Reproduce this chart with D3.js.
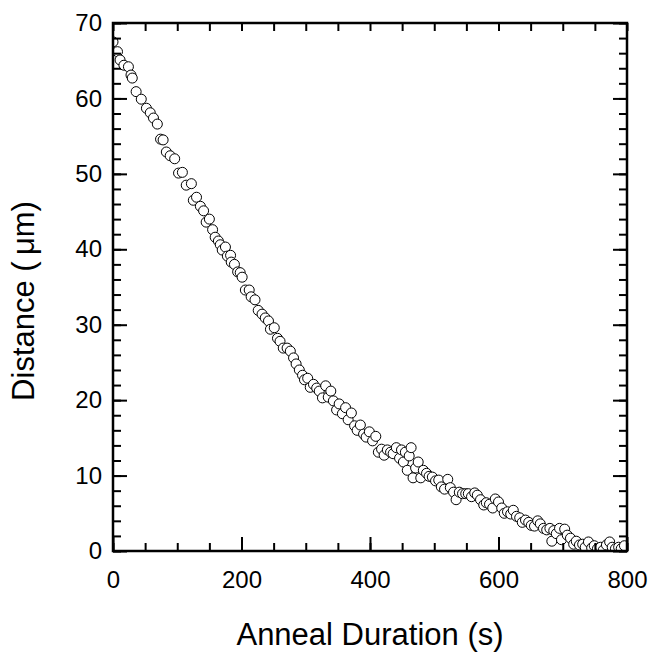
<!DOCTYPE html>
<html>
<head>
<meta charset="utf-8">
<script src="https://cdn.jsdelivr.net/npm/d3@7"></script>
<style>
body { margin: 0; background: #fff; }
text { font-family: "Liberation Sans", Arial, sans-serif; fill: #000; }
</style>
</head>
<body>
<svg width="651" height="654"></svg>
<script>
var duration = [0, 7, 11, 17, 24, 28, 30, 36, 44, 52, 58, 63, 69, 74, 78, 83, 89, 96, 102, 108,
    114, 122, 125, 130, 136, 141, 145, 150, 155, 159, 164, 167, 170, 175, 178, 183, 184, 189, 194, 198,
    201, 206, 212, 215, 221, 226, 232, 237, 242, 245, 251, 256, 260, 265, 271, 276, 281, 285, 290, 295,
    298, 303, 307, 312, 317, 321, 326, 331, 335, 339, 343, 348, 352, 357, 362, 366, 371, 376, 380, 385,
    390, 394, 399, 404, 409, 413, 418, 422, 427, 432, 436, 441, 446, 449, 452, 455, 458, 461, 464, 467,
    471, 475, 479, 483, 488, 492, 497, 502, 507, 511, 516, 521, 525, 530, 534, 539, 544, 549, 553, 558,
    563, 567, 572, 577, 581, 586, 591, 595, 600, 605, 609, 614, 619, 623, 628, 633, 637, 642, 647, 651,
    656, 661, 665, 670, 675, 680, 683, 686, 690, 695, 698, 703, 707, 712, 717, 721, 726, 731, 735, 740,
    745, 749, 754, 759, 763, 768, 773, 777, 782, 787, 791, 796];
var distance = [67.5, 66.2, 65.1, 64.4, 64.2, 63.1, 62.7, 60.9, 59.9, 58.7, 58.1, 57.4, 56.6, 54.6, 54.5, 52.9, 52.4, 52.0, 50.1, 50.2,
    48.5, 48.7, 46.5, 46.9, 45.7, 45.1, 43.6, 44.0, 42.6, 41.6, 41.1, 40.6, 39.9, 40.3, 39.1, 39.2, 38.3, 38.0, 37.0, 36.9,
    36.3, 34.6, 34.6, 33.7, 33.3, 31.9, 31.4, 30.9, 30.5, 29.4, 29.6, 28.2, 27.8, 26.9, 26.9, 26.5, 25.6, 24.8, 24.0, 23.3,
    22.7, 22.9, 21.7, 22.1, 21.6, 21.2, 20.3, 21.9, 20.4, 21.2, 19.9, 18.7, 19.5, 18.2, 19.0, 17.4, 18.3, 16.6, 16.0, 16.7,
    15.5, 15.1, 15.8, 14.6, 15.2, 13.1, 13.5, 12.7, 13.4, 13.1, 12.9, 13.7, 12.3, 13.4, 11.8, 13.1, 10.7, 12.6, 13.7, 9.7,
    11.0, 11.8, 9.7, 10.7, 10.3, 9.9, 9.8, 9.3, 9.4, 8.5, 8.2, 9.5, 8.4, 7.8, 6.8, 7.8, 7.6, 7.6, 7.6, 7.2,
    7.7, 7.4, 6.8, 6.1, 6.4, 6.2, 5.7, 6.9, 6.5, 5.7, 5.0, 5.2, 4.9, 5.4, 4.6, 4.4, 3.8, 4.1, 3.8, 3.4,
    3.3, 4.0, 3.6, 3.0, 2.8, 3.0, 1.3, 2.7, 2.3, 3.0, 1.5, 2.9, 2.1, 1.7, 0.9, 1.3, 0.8, 0.9, 0.5, 1.2,
    0.4, 0.7, 0.3, 0.5, 0.1, 0.8, 1.2, 0.5, 0.3, 0.5, 0.3, 0.7];

var xMajor = [0, 200, 400, 600, 800];
var xMinor = d3.range(0, 801, 50);
var yMajor = [0, 10, 20, 30, 40, 50, 60, 70];
var yMinor = d3.range(0, 71, 2);

var svg = d3.select("svg"),
    margin = {top: 23, right: 24, bottom: 103, left: 113},
    width = +svg.attr("width") - margin.left - margin.right,
    height = +svg.attr("height") - margin.top - margin.bottom;

var x = d3.scaleLinear().domain([0, 800]).range([0, width]);
var y = d3.scaleLinear().domain([0, 70]).range([height, 0]);

var g = svg.append("g").attr("transform", "translate(" + margin.left + "," + margin.top + ")");

svg.append("defs").append("clipPath").attr("id", "plot")
    .append("rect").attr("width", width).attr("height", height);

// points
g.append("g")
    .attr("clip-path", "url(#plot)")
    .selectAll("circle")
    .data(duration)
    .enter().append("circle")
        .attr("cx", function(d) { return x(d); })
        .attr("cy", function(d, i) { return y(distance[i]); })
        .attr("r", 5)
        .attr("fill", "#fff")
        .attr("stroke", "#000")
        .attr("stroke-width", 1);

// inward ticks, minor first then major with labels
function ticks(axis, vals, size, labels) {
    axis.tickValues(vals).tickSizeInner(-size).tickSizeOuter(0);
    if (!labels) axis.tickFormat("");
    return axis;
}

function styleAxis(sel) {
    sel.select(".domain").remove();
    sel.selectAll("line").attr("stroke", "#000").attr("stroke-width", 2);
    sel.selectAll("text").attr("font-size", 24).style("font-family", "'Liberation Sans', Arial, sans-serif");
}

g.append("g").attr("transform", "translate(0," + height + ")")
    .call(ticks(d3.axisBottom(x), xMinor, 8, false)).call(styleAxis);
g.append("g").attr("transform", "translate(0," + height + ")")
    .call(ticks(d3.axisBottom(x), xMajor, 14, true).tickPadding(20)).call(styleAxis);
g.append("g")
    .call(ticks(d3.axisTop(x), xMinor, 8, false)).call(styleAxis);

g.append("g")
    .call(ticks(d3.axisLeft(y), yMinor, 8, false)).call(styleAxis);
g.append("g")
    .call(ticks(d3.axisLeft(y), yMajor, 14, true).tickPadding(11)).call(styleAxis);
g.append("g").attr("transform", "translate(" + width + ",0)")
    .call(ticks(d3.axisRight(y), yMinor, 8, false)).call(styleAxis);
g.append("g").attr("transform", "translate(" + width + ",0)")
    .call(ticks(d3.axisRight(y), yMajor, 14, false)).call(styleAxis);

// frame
g.append("rect")
    .attr("width", width).attr("height", height)
    .attr("fill", "none").attr("stroke", "#000").attr("stroke-width", 2.5);

// axis titles
svg.append("text")
    .attr("x", margin.left + width / 2)
    .attr("y", 645)
    .attr("text-anchor", "middle")
    .attr("font-size", 31)
    .text("Anneal Duration (s)");

svg.append("text")
    .attr("transform", "translate(34," + (margin.top + height / 2 + 14) + ") rotate(-90)")
    .attr("text-anchor", "middle")
    .attr("font-size", 31)
    .text("Distance (\u2009\u03bcm)");
</script>
</body>
</html>
